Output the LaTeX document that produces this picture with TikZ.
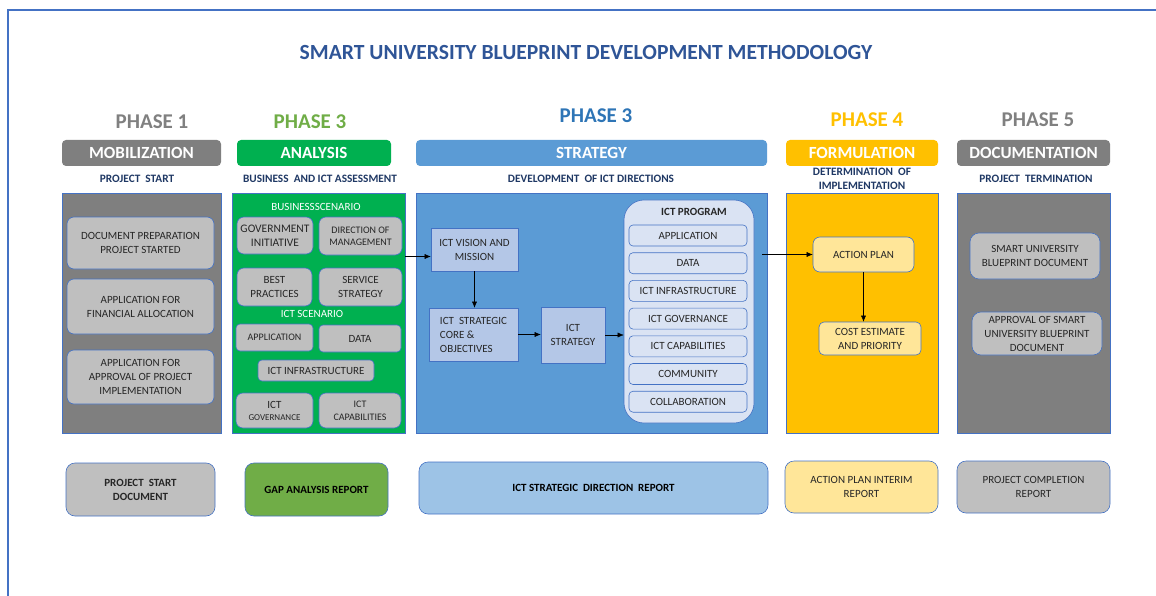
\documentclass[tikz,border=0pt]{standalone}
\usepackage{fontspec}
\setmainfont{Carlito}
\usetikzlibrary{arrows.meta}
\definecolor{frameblue}{HTML}{4472C4}
\definecolor{titleblue}{HTML}{2F5597}
\definecolor{navy}{HTML}{1F3864}
\definecolor{gpanel}{HTML}{7F7F7F}
\definecolor{gtext}{HTML}{808080}
\definecolor{grpanel}{HTML}{00B050}
\definecolor{grtext}{HTML}{70AD47}
\definecolor{bpanel}{HTML}{5B9BD5}
\definecolor{btext}{HTML}{2E75B6}
\definecolor{ypanel}{HTML}{FFC000}
\definecolor{cardgray}{HTML}{BFBFBF}
\definecolor{lightblue}{HTML}{B4C7E7}
\definecolor{paleblue}{HTML}{DAE3F3}
\definecolor{skyblue}{HTML}{9DC3E6}
\definecolor{paleyellow}{HTML}{FFE699}
\definecolor{ink}{HTML}{262626}
\def\txt{\fontsize{11}{14}\selectfont}

\begin{document}
\begin{tikzpicture}[x=1pt,y=-1pt,>={Latex[length=6pt,width=5pt]},
  title/.style={text=titleblue,font=\bfseries\fontsize{21.6}{24}\selectfont},
  phase/.style={font=\bfseries\fontsize{21}{24}\selectfont},
  bar/.style={rounded corners=4pt,minimum height=26pt,inner sep=0pt,text=white,font=\bfseries\fontsize{17}{20}\selectfont},
  sub/.style={text=navy,align=center,font=\bfseries\fontsize{11.3}{14}\selectfont},
  panel/.style={draw=frameblue,line width=0.6pt,minimum height=240pt,inner sep=0pt},
  card/.style={draw=frameblue,line width=0.6pt,rounded corners=7pt,fill=cardgray,text=ink,align=center,inner sep=0pt,font=\txt},
  vbox/.style={draw=frameblue,line width=0.6pt,fill=lightblue,text=ink,align=center,inner sep=0pt,font=\txt},
  item/.style={card,fill=paleblue,rounded corners=4pt,minimum width=118pt,minimum height=21pt},
  report/.style={card,rounded corners=9pt,minimum height=53pt}]
\useasboundingbox (0,0) rectangle (1156,596);
\draw[frameblue,line width=1.5pt] (8,596) -- (8,10) -- (1156,10);
\node[title] (ttl) at (586,52) {SMART UNIVERSITY BLUEPRINT DEVELOPMENT METHODOLOGY};

\node[phase,text=gtext] (ph1) at (152,122) {PHASE 1};
\node[phase,text=grtext] (ph2) at (310,122) {PHASE 3};
\node[phase,text=btext] (ph3) at (596,116) {PHASE 3};
\node[phase,text=ypanel] (ph4) at (867,120) {PHASE 4};
\node[phase,text=gtext] (ph5) at (1038,120) {PHASE 5};

\foreach \n/\cx/\w/\col/\lab in {mob/141.5/159/gpanel/MOBILIZATION,ana/314/154/grpanel/ANALYSIS,strat/591.5/351/bpanel/STRATEGY,form/862/152/ypanel/FORMULATION,docu/1033.5/153/gpanel/DOCUMENTATION}
{
	\node[bar,fill=\col,minimum width=\w pt] (\n) at (\cx,153) {\lab};
}
\node[sub] (s1) at (137,179) {PROJECT\ \ START};
\node[sub] (s2) at (320,179) {BUSINESS\ \ AND ICT ASSESSMENT};
\node[sub] (s3) at (591,179) {DEVELOPMENT\ \ OF ICT DIRECTIONS};
\node[sub] (s4) at (862,179) {DETERMINATION\ \ OF\\IMPLEMENTATION};
\node[sub] (s5) at (1036,179) {PROJECT\ \ TERMINATION};

\foreach \n/\cx/\w/\col in {pmob/141.5/159/gpanel,pana/318.5/173/grpanel,pstrat/591.5/351/bpanel,pform/862/152/ypanel,pdocu/1033.5/153/gpanel}
{
	\node[panel,fill=\col,minimum width=\w pt] (\n) at (\cx,313.5) {};
}

\node[card,minimum width=147pt,minimum height=52pt] (prep) at (140.5,243) {DOCUMENT PREPARATION\\PROJECT STARTED};
\node[card,minimum width=147pt,minimum height=55pt] (fin) at (140.5,306.5) {APPLICATION FOR\\FINANCIAL ALLOCATION};
\node[card,minimum width=147pt,minimum height=54pt] (appr) at (140.5,377) {APPLICATION FOR\\APPROVAL OF PROJECT\\IMPLEMENTATION};

\node[text=white,font=\fontsize{11}{12}\selectfont] (bsc) at (316,207) {BUSINESSSCENARIO};
\node[card,minimum width=76pt,minimum height=37pt,font=\fontsize{11.5}{14}\selectfont] (gov) at (275,235.5) {GOVERNMENT\\INITIATIVE};
\node[card,minimum width=83pt,minimum height=38pt,font=\fontsize{10}{12}\selectfont] (dir) at (360.5,236) {DIRECTION OF\\MANAGEMENT};
\node[card,minimum width=75pt,minimum height=38pt] (best) at (274.5,287) {BEST\\PRACTICES};
\node[card,minimum width=83pt,minimum height=38pt] (serv) at (360.5,287) {SERVICE\\STRATEGY};
\node[text=white,font=\fontsize{11}{12}\selectfont] (isc) at (312,314) {ICT SCENARIO};
\node[card,rounded corners=4pt,minimum width=77pt,minimum height=27pt,font=\fontsize{10}{12}\selectfont] (sapp) at (274.5,337.5) {APPLICATION};
\node[card,rounded corners=4pt,minimum width=82pt,minimum height=27pt] (sdat) at (360,338.5) {DATA};
\node[card,rounded corners=4pt,minimum width=116pt,minimum height=21pt] (sinf) at (316,370.5) {ICT INFRASTRUCTURE};
\node[card,minimum width=77pt,minimum height=35pt,font=\fontsize{9}{12}\selectfont] (sgov) at (274.5,410.5) {{\txt ICT}\\GOVERNANCE};
\node[card,minimum width=82pt,minimum height=35pt,font=\fontsize{10}{13}\selectfont] (scap) at (360,410.5) {ICT\\CAPABILITIES};

\node[vbox,minimum width=87pt,minimum height=43pt] (vis) at (474.5,249.5) {ICT VISION AND\\MISSION};
\node[vbox,minimum width=89pt,minimum height=53pt,align=left] (core) at (473.5,334.5) {ICT\ \ STRATEGIC\\CORE \&\\OBJECTIVES};
\node[vbox,minimum width=64pt,minimum height=56pt] (ictstr) at (573,335) {ICT\\STRATEGY};
\node[card,fill=paleblue,rounded corners=20pt,minimum width=130pt,minimum height=223pt] (prog) at (689,311.5) {};
\node[text=ink,font=\bfseries\fontsize{11}{12}\selectfont] (progt) at (694,212) {ICT PROGRAM};
\foreach \t [count=\i from 0] in {APPLICATION,DATA,ICT INFRASTRUCTURE,ICT GOVERNANCE,ICT CAPABILITIES,COMMUNITY,COLLABORATION}
{
	\node[item] (prog\i) at (688,{235.5+27.7*\i}) {\t};
}

\node[card,fill=paleyellow,minimum width=101pt,minimum height=35pt] (act) at (863.5,254.5) {ACTION PLAN};
\node[card,fill=paleyellow,rounded corners=5pt,minimum width=102pt,minimum height=33pt] (cost) at (870,338.5) {COST ESTIMATE\\AND PRIORITY};

\node[card,rounded corners=9pt,minimum width=130pt,minimum height=46pt] (bp) at (1035,256) {SMART UNIVERSITY\\BLUEPRINT DOCUMENT};
\node[card,rounded corners=9pt,minimum width=130pt,minimum height=43pt] (bpok) at (1037,333.5) {APPROVAL OF SMART\\UNIVERSITY BLUEPRINT\\DOCUMENT};

\draw[->] ([yshift=-7pt]vis.west -| pana.east) -- ([yshift=-7pt]vis.west);
\draw[->] (vis.south) -- (vis.south |- core.north);
\draw[->] (core.east) -- (core.east -| ictstr.west);
\draw[->] (ictstr.east) -- (ictstr.east -| prog.west);
\draw[->] ([xshift=-5pt]pstrat.east |- act.west) -- (act.west);
\draw[->] (act.south) -- (act.south |- cost.north);

\node[report,minimum width=149pt,font=\bfseries\txt] (r1) at (140.5,489.5) {PROJECT\ \ START\\DOCUMENT};
\node[report,fill=grtext,minimum width=143pt,text=black,font=\bfseries\txt] (r2) at (316.5,489.5) {GAP ANALYSIS REPORT};
\node[report,fill=skyblue,minimum width=349pt,minimum height=52pt,text=black,font=\bfseries\txt] (r3) at (593.5,488) {ICT STRATEGIC\ \ DIRECTION\ \ REPORT};
\node[report,fill=paleyellow,minimum width=153pt,minimum height=52pt] (r4) at (861.5,487) {ACTION PLAN INTERIM\\REPORT};
\node[report,minimum width=153pt,minimum height=52pt] (r5) at (1033.5,487) {PROJECT COMPLETION\\REPORT};
\end{tikzpicture}
\end{document}
